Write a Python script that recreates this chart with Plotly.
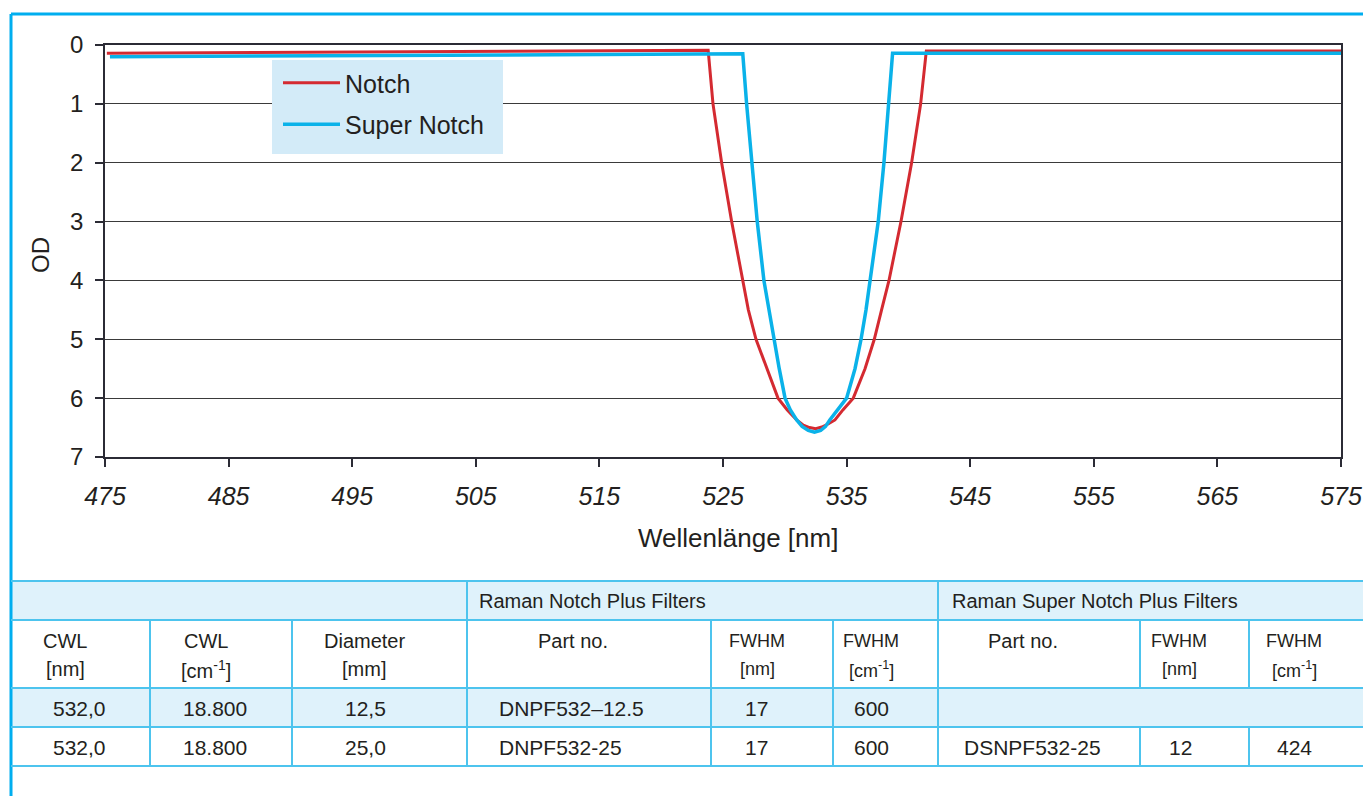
import plotly.graph_objects as go

W, H = 1363, 796

def px(x):
    return x / W

def py(y):
    return 1 - y / H

# ---------------- data ----------------
notch_nm = [475.15, 523.8, 524.19, 524.89, 525.70, 526.56, 527.05, 527.67, 528.53, 529.45, 530.2, 530.96,
            531.5, 532.0, 532.5, 533.0, 533.5, 534.06, 534.7, 535.54, 536.49, 537.24, 537.83, 538.43,
            539.4, 540.26, 540.99, 541.45, 575.0]
notch_od = [0.14, 0.09, 1, 2, 3, 4, 4.5, 5, 5.5, 6, 6.2, 6.37,
            6.46, 6.50, 6.52, 6.49, 6.44, 6.37, 6.2, 6, 5.5, 5, 4.5, 4,
            3, 2, 1, 0.1, 0.1]

super_nm = [475.4, 526.6, 526.91, 527.31, 527.77, 528.31, 528.72, 529.12, 529.55, 530.02, 530.45, 530.96,
            531.4, 531.9, 532.4, 532.9, 533.3, 533.64, 534.3, 535.0, 535.68, 536.17, 536.57, 536.89,
            537.56, 538.02, 538.40, 538.72, 575.0]
super_od = [0.2, 0.15, 1, 2, 3, 4, 4.5, 5, 5.5, 6, 6.2, 6.37,
            6.48, 6.55, 6.58, 6.55, 6.48, 6.37, 6.2, 6, 5.5, 5, 4.5, 4,
            3, 2, 1, 0.14, 0.14]

x_ticks = [475, 485, 495, 505, 515, 525, 535, 545, 555, 565, 575]
y_ticks = [0, 1, 2, 3, 4, 5, 6, 7]

group_labels = ["", "Raman Notch Plus Filters", "Raman Super Notch Plus Filters"]
header_top = ["CWL", "CWL", "Diameter", "Part no.", "FWHM", "FWHM", "Part no.", "FWHM", "FWHM"]
header_unit = ["[nm]", "[cm<sup>-1</sup>]", "[mm]", "", "[nm]", "[cm<sup>-1</sup>]", "", "[nm]", "[cm<sup>-1</sup>]"]
row1 = ["532,0", "18.800", "12,5", "DNPF532\u201312.5", "17", "600", "", "", ""]
row2 = ["532,0", "18.800", "25,0", "DNPF532-25", "17", "600", "DSNPF532-25", "12", "424"]

# ---------------- styling / layout positions ----------------
RED = "#d42a31"
BLUE = "#0ab2e9"
FRAME = "#00aeef"
TLINE = "#4dc4ee"
TFILL = "#dff2fb"
LEGBG = "#d3ebf8"
TXT = "#231f20"
FONT = "Liberation Sans"

col_edges = [11, 150, 292, 467, 711, 833, 938, 1140, 1249, 1363]
row_edges = [581, 620, 688, 727, 766]
hdr_cx = [65, 206, 364, 573, 757, 871, 1023, 1179, 1294]
dat_cx = [79, 215, 365, 497, 756, 871, 962, 1180, 1294]
dat_anchor = ["center", "center", "center", "left", "center", "center", "left", "center", "center"]
hdr_size = [20, 20, 20, 20, 18, 18, 20, 18, 18]

fig = go.Figure()
fig.add_trace(go.Scatter(x=notch_nm, y=notch_od, mode="lines", name="Notch", legendgroup="a",
                         line=dict(color=RED, width=3)))
fig.add_trace(go.Scatter(x=super_nm, y=super_od, mode="lines", name="Super Notch",
                         legendgroup="b", line=dict(color=BLUE, width=3.5)))

shapes = []
annotations = []

# outer frame
shapes.append(dict(type="line", xref="paper", yref="paper", x0=px(11), x1=px(11), y0=py(14), y1=py(800),
                   line=dict(color=FRAME, width=3)))
shapes.append(dict(type="line", xref="paper", yref="paper", x0=px(11), x1=px(1366), y0=py(14), y1=py(14),
                   line=dict(color=FRAME, width=3)))

# legend background box
shapes.append(dict(type="rect", xref="paper", yref="paper", x0=px(272), x1=px(503), y0=py(154), y1=py(60),
                   fillcolor=LEGBG, line=dict(width=0), layer="above"))

# table fills
shapes.append(dict(type="rect", xref="paper", yref="paper", x0=px(11), x1=px(1366),
                   y0=py(row_edges[0]), y1=py(row_edges[1]), fillcolor=TFILL, line=dict(width=0), layer="below"))
shapes.append(dict(type="rect", xref="paper", yref="paper", x0=px(11), x1=px(1366),
                   y0=py(row_edges[2]), y1=py(row_edges[3]), fillcolor=TFILL, line=dict(width=0), layer="below"))

# horizontal lines
for ry in row_edges:
    shapes.append(dict(type="line", xref="paper", yref="paper", x0=px(11), x1=px(1366), y0=py(ry), y1=py(ry),
                       line=dict(color=TLINE, width=2)))
# vertical lines: group row only at group boundaries
for cx in [467, 938]:
    shapes.append(dict(type="line", xref="paper", yref="paper", x0=px(cx), x1=px(cx),
                       y0=py(row_edges[0]), y1=py(row_edges[1]), line=dict(color=TLINE, width=2)))
for cx in col_edges[1:-1]:
    shapes.append(dict(type="line", xref="paper", yref="paper", x0=px(cx), x1=px(cx),
                       y0=py(row_edges[1]), y1=py(row_edges[2]), line=dict(color=TLINE, width=2)))
    shapes.append(dict(type="line", xref="paper", yref="paper", x0=px(cx), x1=px(cx),
                       y0=py(row_edges[3]), y1=py(row_edges[4]), line=dict(color=TLINE, width=2)))
    if cx <= 938:
        shapes.append(dict(type="line", xref="paper", yref="paper", x0=px(cx), x1=px(cx),
                           y0=py(row_edges[2]), y1=py(row_edges[3]), line=dict(color=TLINE, width=2)))

# group labels
for lab, lx in zip(group_labels, [30, 477, 950]):
    if lab:
        annotations.append(dict(text=lab, xref="paper", yref="paper", x=px(lx), y=py(601),
                                xanchor="left", yanchor="middle", showarrow=False,
                                font=dict(family=FONT, size=20, color=TXT)))
for i in range(9):
    annotations.append(dict(text=header_top[i], xref="paper", yref="paper", x=px(hdr_cx[i]), y=py(641),
                            xanchor="center", yanchor="middle", showarrow=False,
                            font=dict(family=FONT, size=hdr_size[i], color=TXT)))
    if header_unit[i]:
        annotations.append(dict(text=header_unit[i], xref="paper", yref="paper", x=px(hdr_cx[i]), y=py(669),
                                xanchor="center", yanchor="middle", showarrow=False,
                                font=dict(family=FONT, size=hdr_size[i], color=TXT)))
    for row, ry in [(row1, 708), (row2, 747)]:
        if row[i]:
            annotations.append(dict(text=row[i], xref="paper", yref="paper", x=px(dat_cx[i]), y=py(ry),
                                    xanchor=dat_anchor[i], yanchor="middle", showarrow=False,
                                    font=dict(family=FONT, size=21, color=TXT)))

# axis titles
annotations.append(dict(text="Wellenl\u00e4nge [nm]", xref="paper", yref="paper", x=px(738), y=py(538),
                        xanchor="center", yanchor="middle", showarrow=False,
                        font=dict(family=FONT, size=26, color=TXT)))
annotations.append(dict(text="OD", xref="paper", yref="paper", x=px(40), y=py(255), textangle=-90,
                        xanchor="center", yanchor="middle", showarrow=False,
                        font=dict(family=FONT, size=24, color=TXT)))

fig.update_layout(
    width=W, height=H,
    margin=dict(l=0, r=0, t=0, b=0),
    paper_bgcolor="white", plot_bgcolor="white",
    showlegend=True,
    legend=dict(x=px(278), y=py(60), xanchor="left", yanchor="top",
                bgcolor="rgba(0,0,0,0)", borderwidth=0,
                font=dict(family=FONT, size=25, color=TXT),
                itemwidth=57, tracegroupgap=6),
    shapes=shapes,
    annotations=annotations,
    xaxis=dict(domain=[px(105), px(1341)], range=[475, 575], tickvals=x_ticks,
               ticks="outside", ticklen=8, tickcolor="#2b2b35", tickwidth=1.5,
               showline=True, linecolor="#2b2b35", linewidth=1.5, mirror=True,
               showgrid=False, zeroline=False, automargin=False, ticklabelstandoff=8,
               tickfont=dict(family=FONT, size=25, color=TXT, style="italic")),
    yaxis=dict(domain=[py(457), py(45)], range=[7, 0], tickvals=y_ticks,
               ticks="outside", ticklen=8, tickcolor="#2b2b35", tickwidth=1.5,
               showline=True, linecolor="#2b2b35", linewidth=1.5, mirror=True,
               showgrid=True, gridcolor="#3a3a3a", gridwidth=1.2, zeroline=False, automargin=False,
               ticklabelstandoff=7,
               tickfont=dict(family=FONT, size=24, color=TXT)),
)

fig.write_html("out.html", config={"displayModeBar": False},
               post_script="document.body.style.margin='0';document.body.style.overflow='hidden';")
